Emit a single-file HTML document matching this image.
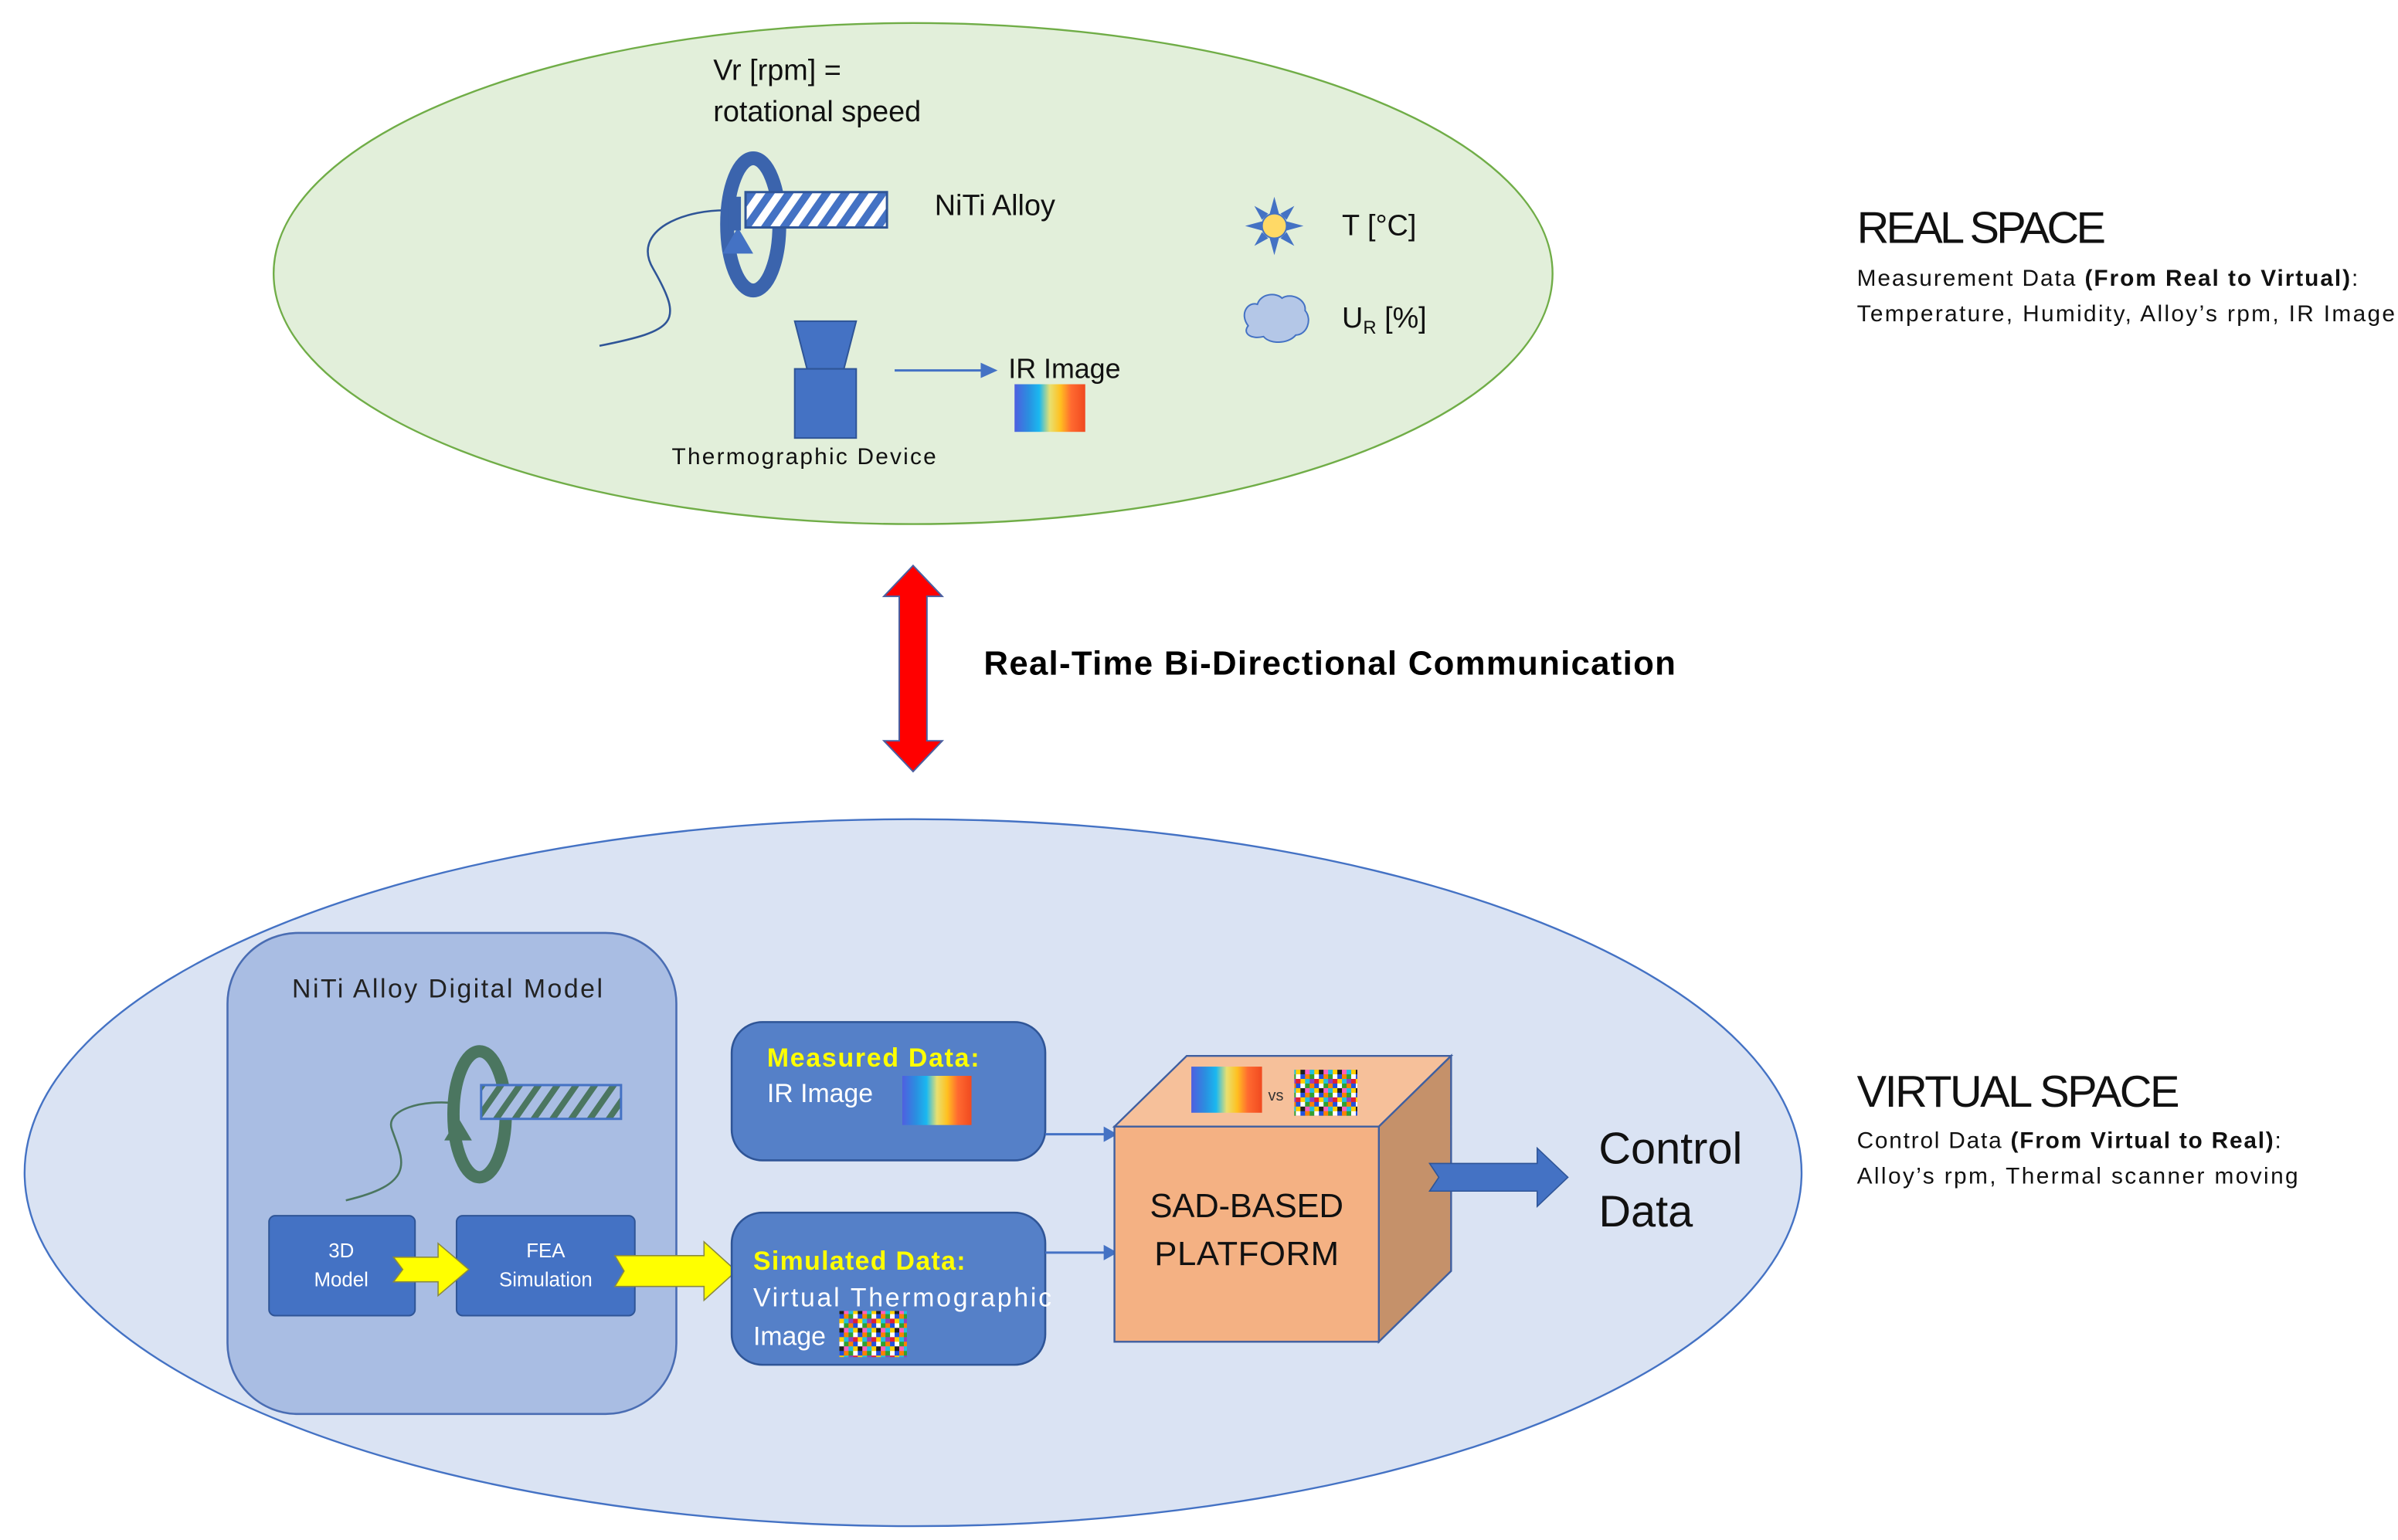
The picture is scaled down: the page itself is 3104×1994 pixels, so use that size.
<!DOCTYPE html>
<html><head><meta charset="utf-8"><style>
html,body{margin:0;padding:0;background:#fff;}
svg{display:block;}
text{font-family:"Liberation Sans",sans-serif;}
</style></head><body>
<svg width="3104" height="1994" viewBox="0 0 1560 1002" preserveAspectRatio="none" xmlns="http://www.w3.org/2000/svg">
<defs>
<pattern id="hatchB" width="10" height="10" patternUnits="userSpaceOnUse" patternTransform="rotate(35)">
<rect width="10" height="10" fill="#fff"/><rect width="5" height="10" fill="#4472c4"/></pattern>
<pattern id="hatchG" width="10" height="10" patternUnits="userSpaceOnUse" patternTransform="rotate(35)">
<rect width="10" height="10" fill="#a9bde3"/><rect width="4" height="10" fill="#4b7660"/></pattern>
<linearGradient id="ir" x1="0" x2="1" y1="0" y2="0">
<stop offset="0" stop-color="#4f5fe0"/><stop offset="0.2" stop-color="#2a8fe0"/><stop offset="0.35" stop-color="#1ab8f0"/><stop offset="0.5" stop-color="#e8e070"/><stop offset="0.65" stop-color="#ffc020"/><stop offset="0.8" stop-color="#ff6a30"/><stop offset="1" stop-color="#f04a20"/></linearGradient>
<pattern id="mos" width="12" height="12" patternUnits="userSpaceOnUse">
<rect width="12" height="12" fill="#e02030"/>
<rect x="0" y="0" width="3" height="3" fill="#20c0e0"/><rect x="3" y="0" width="3" height="3" fill="#ffd000"/><rect x="6" y="0" width="3" height="3" fill="#202020"/><rect x="9" y="0" width="3" height="3" fill="#ff60c0"/>
<rect x="0" y="3" width="3" height="3" fill="#30a030"/><rect x="3" y="3" width="3" height="3" fill="#ffffff"/><rect x="6" y="3" width="3" height="3" fill="#2050e0"/><rect x="9" y="3" width="3" height="3" fill="#ff8000"/>
<rect x="0" y="6" width="3" height="3" fill="#9040c0"/><rect x="3" y="6" width="3" height="3" fill="#e02030"/><rect x="6" y="6" width="3" height="3" fill="#ffd000"/><rect x="9" y="6" width="3" height="3" fill="#20c0e0"/>
<rect x="0" y="9" width="3" height="3" fill="#ff8000"/><rect x="3" y="9" width="3" height="3" fill="#2050e0"/><rect x="6" y="9" width="3" height="3" fill="#ffffff"/><rect x="9" y="9" width="3" height="3" fill="#30a030"/>
</pattern>
</defs>

<!-- REAL SPACE ellipse -->
<ellipse cx="594" cy="178" rx="416" ry="163" fill="#e2efda" stroke="#70ad47" stroke-width="1.2"/>
<text x="464" y="52" font-size="19" fill="#111">Vr [rpm] =</text>
<text x="464" y="79" font-size="19" fill="#111">rotational speed</text>
<!-- wire -->
<path d="M478 137 C445 135 410 150 425 175 C445 210 440 215 390 225" fill="none" stroke="#2f5597" stroke-width="1.3"/>
<!-- ring -->
<ellipse cx="490" cy="146" rx="17" ry="43" fill="none" stroke="#3b64ad" stroke-width="9"/>
<rect x="485" y="125" width="92" height="23" fill="url(#hatchB)" stroke="#2f5597" stroke-width="1.5"/>
<path d="M480 148 L470 165 L490 165 Z" fill="#4472c4"/>
<rect x="474" y="128" width="8" height="22" fill="#3b64ad"/>
<text x="608" y="140" font-size="19" fill="#111">NiTi Alloy</text>
<!-- sun -->
<g transform="translate(829,147)">
<g fill="#4472c4">
<path d="M0 -19 L3 -8 L-3 -8 Z"/><path d="M0 19 L3 8 L-3 8 Z"/><path d="M-19 0 L-8 3 L-8 -3 Z"/><path d="M19 0 L8 3 L8 -3 Z"/>
<path d="M-13 -13 L-4 -8 L-8 -4 Z"/><path d="M13 -13 L4 -8 L8 -4 Z"/><path d="M-13 13 L-4 8 L-8 4 Z"/><path d="M13 13 L4 8 L8 4 Z"/>
</g>
<circle r="8" fill="#ffd966" stroke="#4472c4" stroke-width="1"/>
</g>
<text x="873" y="153" font-size="19" fill="#111">T [°C]</text>
<!-- cloud -->
<path d="M812 212 C806 204 812 196 818 198 C820 191 830 190 834 194 C840 190 850 195 849 202 C854 208 850 218 843 218 C838 224 826 224 822 219 C814 221 808 217 812 212 Z" fill="#b4c7e7" stroke="#4472c4" stroke-width="1"/>
<text x="873" y="213" font-size="19" fill="#111">U<tspan font-size="12" dy="4">R</tspan><tspan dy="-4"> [%]</tspan></text>
<!-- thermo device -->
<path d="M517 209 L557 209 L549 240 L525 240 Z" fill="#4472c4" stroke="#2f5597" stroke-width="1"/>
<rect x="517" y="240" width="40" height="45" fill="#4472c4" stroke="#2f5597" stroke-width="1"/>
<text x="437" y="302" font-size="15" fill="#111" textLength="172">Thermographic Device</text>
<line x1="582" y1="241" x2="640" y2="241" stroke="#4472c4" stroke-width="1.5"/>
<path d="M638 236 L649 241 L638 246 Z" fill="#4472c4"/>
<text x="656" y="246" font-size="18" fill="#111">IR Image</text>
<rect x="660" y="250" width="46" height="31" fill="url(#ir)"/>

<!-- Right labels -->
<text x="1208" y="158" font-size="29" fill="#111" textLength="162">REAL SPACE</text>
<text x="1208" y="186" font-size="15" fill="#111" textLength="326">Measurement  Data <tspan font-weight="bold">(From Real to Virtual)</tspan>:</text>
<text x="1208" y="209" font-size="15" fill="#111" textLength="350">Temperature,  Humidity, Alloy’s rpm, IR Image</text>

<!-- red arrow -->
<path d="M594 368 L613 388 L603 388 L603 482 L613 482 L594 502 L575 482 L585 482 L585 388 L575 388 Z" fill="#ff0000" stroke="#4a5fa0" stroke-width="1"/>
<text x="640" y="439" font-size="22" font-weight="bold" fill="#000" textLength="450">Real-Time Bi-Directional Communication</text>

<!-- VIRTUAL ellipse -->
<ellipse cx="594" cy="763" rx="578" ry="230" fill="#dae3f3" stroke="#4472c4" stroke-width="1.2"/>
<rect x="148" y="607" width="292" height="313" rx="46" fill="#a9bde3" stroke="#4a6db3" stroke-width="1.3"/>
<text x="190" y="649" font-size="17" fill="#222" textLength="202">NiTi Alloy Digital Model</text>
<path d="M298 718 C275 715 250 722 255 735 C262 755 272 770 225 781" fill="none" stroke="#4b7660" stroke-width="1.3"/>
<ellipse cx="312" cy="725" rx="17" ry="41" fill="none" stroke="#4b7660" stroke-width="8"/>
<rect x="313" y="706" width="91" height="22" fill="url(#hatchG)" stroke="#4472c4" stroke-width="1.5"/>
<path d="M298 727 L289 742 L307 742 Z" fill="#4b7660"/>
<rect x="175" y="791" width="95" height="65" rx="4" fill="#4472c4" stroke="#2f5597" stroke-width="1"/>
<text x="222" y="818" font-size="13" fill="#fff" text-anchor="middle">3D</text>
<text x="222" y="837" font-size="13" fill="#fff" text-anchor="middle">Model</text>
<rect x="297" y="791" width="116" height="65" rx="4" fill="#4472c4" stroke="#2f5597" stroke-width="1"/>
<text x="355" y="818" font-size="13" fill="#fff" text-anchor="middle">FEA</text>
<text x="355" y="837" font-size="13" fill="#fff" text-anchor="middle">Simulation</text>
<path d="M256 818 L285 818 L285 809 L305 826 L285 843 L285 834 L256 834 L262 826 Z" fill="#ffff00" stroke="#8a8a40" stroke-width="0.8"/>
<path d="M400 817 L458 817 L458 808 L479 827 L458 846 L458 837 L400 837 L406 827 Z" fill="#ffff00" stroke="#8a8a40" stroke-width="0.8"/>

<rect x="476" y="665" width="204" height="90" rx="20" fill="#5580c8" stroke="#2f5597" stroke-width="1.3"/>
<text x="499" y="694" font-size="17" font-weight="bold" fill="#ffff00" textLength="138">Measured Data:</text>
<text x="499" y="717" font-size="17" fill="#fff">IR Image</text>
<rect x="587" y="700" width="45" height="32" fill="url(#ir)"/>

<rect x="476" y="789" width="204" height="99" rx="20" fill="#5580c8" stroke="#2f5597" stroke-width="1.3"/>
<text x="490" y="826" font-size="17" font-weight="bold" fill="#ffff00" textLength="138">Simulated Data:</text>
<text x="490" y="850" font-size="17" fill="#fff" textLength="194">Virtual Thermographic</text>
<text x="490" y="875" font-size="17" fill="#fff">Image</text>
<rect x="546" y="853" width="44" height="30" fill="url(#mos)"/>

<line x1="680" y1="738" x2="720" y2="738" stroke="#4472c4" stroke-width="1.5"/>
<path d="M718 733 L727 738 L718 743 Z" fill="#4472c4"/>
<line x1="680" y1="815" x2="720" y2="815" stroke="#4472c4" stroke-width="1.5"/>
<path d="M718 810 L727 815 L718 820 Z" fill="#4472c4"/>

<!-- cube -->
<path d="M725 733 L772 687 L944 687 L897 733 Z" fill="#f6c09a" stroke="#3f5fa0" stroke-width="1.2"/>
<path d="M897 733 L944 687 L944 827 L897 873 Z" fill="#c5916a" stroke="#3f5fa0" stroke-width="1.2"/>
<rect x="725" y="733" width="172" height="140" fill="#f4b183" stroke="#3f5fa0" stroke-width="1.2"/>
<rect x="775" y="694" width="46" height="30" fill="url(#ir)"/>
<text x="825" y="716" font-size="10" fill="#333">vs</text>
<rect x="842" y="696" width="41" height="30" fill="url(#mos)"/>
<text x="811" y="792" font-size="22" fill="#111" text-anchor="middle" textLength="126">SAD-BASED</text>
<text x="811" y="823" font-size="22" fill="#111" text-anchor="middle" textLength="120">PLATFORM</text>
<path d="M930 757 L1000 757 L1000 747 L1020 766 L1000 785 L1000 775 L930 775 L936 766 Z" fill="#4472c4" stroke="#2f5597" stroke-width="0.8"/>
<text x="1040" y="757" font-size="29" fill="#111">Control</text>
<text x="1040" y="798" font-size="29" fill="#111">Data</text>

<text x="1208" y="720" font-size="29" fill="#111" textLength="210">VIRTUAL SPACE</text>
<text x="1208" y="747" font-size="15" fill="#111" textLength="276">Control Data <tspan font-weight="bold">(From Virtual to Real)</tspan>:</text>
<text x="1208" y="770" font-size="15" fill="#111" textLength="287">Alloy’s rpm, Thermal scanner moving</text>
</svg>
</body></html>
